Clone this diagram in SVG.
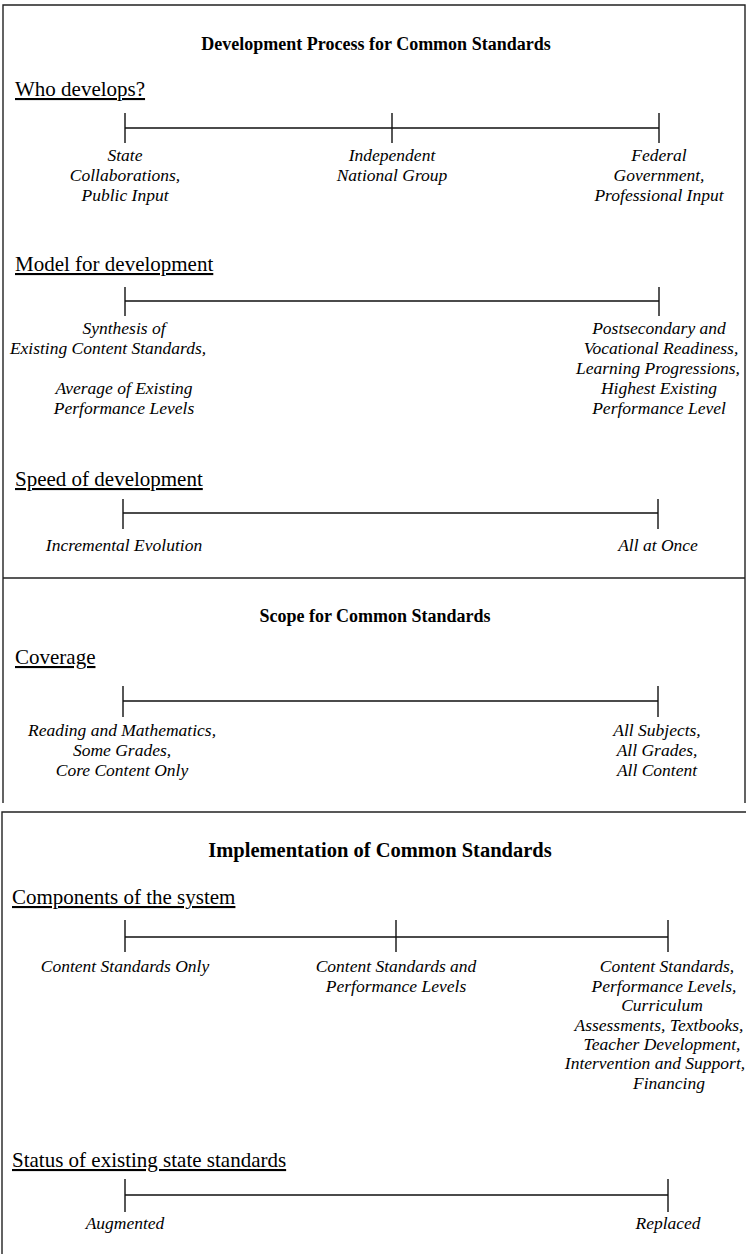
<svg xmlns="http://www.w3.org/2000/svg" width="746" height="1254" viewBox="0 0 746 1254">
<style>
.frame{fill:none;stroke:#222;stroke-width:1.4}
.scale{fill:none;stroke:#111;stroke-width:1.4}
.title{font-family:"Liberation Serif","Times New Roman",serif;font-weight:bold;font-size:18px;fill:#000;text-anchor:middle}
.head{font-family:"Liberation Serif","Times New Roman",serif;font-size:21px;fill:#000;text-decoration:underline}
.lab{font-family:"Liberation Serif","Times New Roman",serif;font-style:italic;font-size:17.5px;fill:#000;text-anchor:middle}
</style>
<rect width="746" height="1254" fill="#fff"/>
<g id="frames">
<path class="frame" d="M3,803 V5 H745 V803 M3,578 H745"/>
<path class="frame" d="M2,1254 V812 H746"/>
</g>
<g id="connectors">
<path class="scale" d="M125,128 H659 M125,113 V143 M392,113 V143 M659,113 V143"/>
<path class="scale" d="M125,301 H659 M125,287 V316 M659,287 V316"/>
<path class="scale" d="M123,513 H658 M123,499 V529 M658,499 V529"/>
<path class="scale" d="M123,701 H658 M123,686 V717 M658,686 V717"/>
<path class="scale" d="M125,937 H668 M125,920 V952 M396,920 V952 M668,920 V952"/>
<path class="scale" d="M125,1195 H668 M125,1179 V1212 M668,1179 V1212"/>
</g>
<g id="title-development"><text class="title" x="376" y="50">Development Process for Common Standards</text></g>
<g id="head-who"><text class="head" x="15" y="96">Who develops?</text></g>
<g id="who-state"><text class="lab" x="125" y="161">State</text><text class="lab" x="125" y="181">Collaborations,</text><text class="lab" x="125" y="201">Public Input</text></g>
<g id="who-independent"><text class="lab" x="392" y="161">Independent</text><text class="lab" x="392" y="181">National Group</text></g>
<g id="who-federal"><text class="lab" x="659" y="161">Federal</text><text class="lab" x="659" y="181">Government,</text><text class="lab" x="659" y="201">Professional Input</text></g>
<g id="head-model"><text class="head" x="15" y="271">Model for development</text></g>
<g id="model-synthesis"><text class="lab" x="124" y="334">Synthesis of</text><text class="lab" x="108" y="354">Existing Content Standards,</text><text class="lab" x="124" y="394">Average of Existing</text><text class="lab" x="124" y="414">Performance Levels</text></g>
<g id="model-postsecondary"><text class="lab" x="659" y="334">Postsecondary and</text><text class="lab" x="661" y="354">Vocational Readiness,</text><text class="lab" x="658" y="374">Learning Progressions,</text><text class="lab" x="659" y="394">Highest Existing</text><text class="lab" x="659" y="414">Performance Level</text></g>
<g id="head-speed"><text class="head" x="15" y="486">Speed of development</text></g>
<g id="speed-incremental"><text class="lab" x="124" y="551">Incremental Evolution</text></g>
<g id="speed-all"><text class="lab" x="658" y="551">All at Once</text></g>
<g id="title-scope"><text class="title" x="375" y="622">Scope for Common Standards</text></g>
<g id="head-coverage"><text class="head" x="15" y="664">Coverage</text></g>
<g id="coverage-reading"><text class="lab" x="122" y="736">Reading and Mathematics,</text><text class="lab" x="122" y="756">Some Grades,</text><text class="lab" x="122" y="776">Core Content Only</text></g>
<g id="coverage-all"><text class="lab" x="657" y="736">All Subjects,</text><text class="lab" x="657" y="756">All Grades,</text><text class="lab" x="657" y="776">All Content</text></g>
<g id="title-implementation"><text class="title" x="380" y="857" style="font-size:20.5px">Implementation of Common Standards</text></g>
<g id="head-components"><text class="head" x="12" y="904">Components of the system</text></g>
<g id="comp-only"><text class="lab" x="125" y="972">Content Standards Only</text></g>
<g id="comp-levels"><text class="lab" x="396" y="972">Content Standards and</text><text class="lab" x="396" y="992">Performance Levels</text></g>
<g id="comp-full"><text class="lab" x="667" y="972">Content Standards,</text><text class="lab" x="664" y="992">Performance Levels,</text><text class="lab" x="662" y="1011">Curriculum</text><text class="lab" x="659" y="1031">Assessments, Textbooks,</text><text class="lab" x="662" y="1050">Teacher Development,</text><text class="lab" x="655" y="1069">Intervention and Support,</text><text class="lab" x="669" y="1089">Financing</text></g>
<g id="head-status"><text class="head" x="12" y="1167">Status of existing state standards</text></g>
<g id="status-augmented"><text class="lab" x="125" y="1229">Augmented</text></g>
<g id="status-replaced"><text class="lab" x="668" y="1229">Replaced</text></g>
</svg>
